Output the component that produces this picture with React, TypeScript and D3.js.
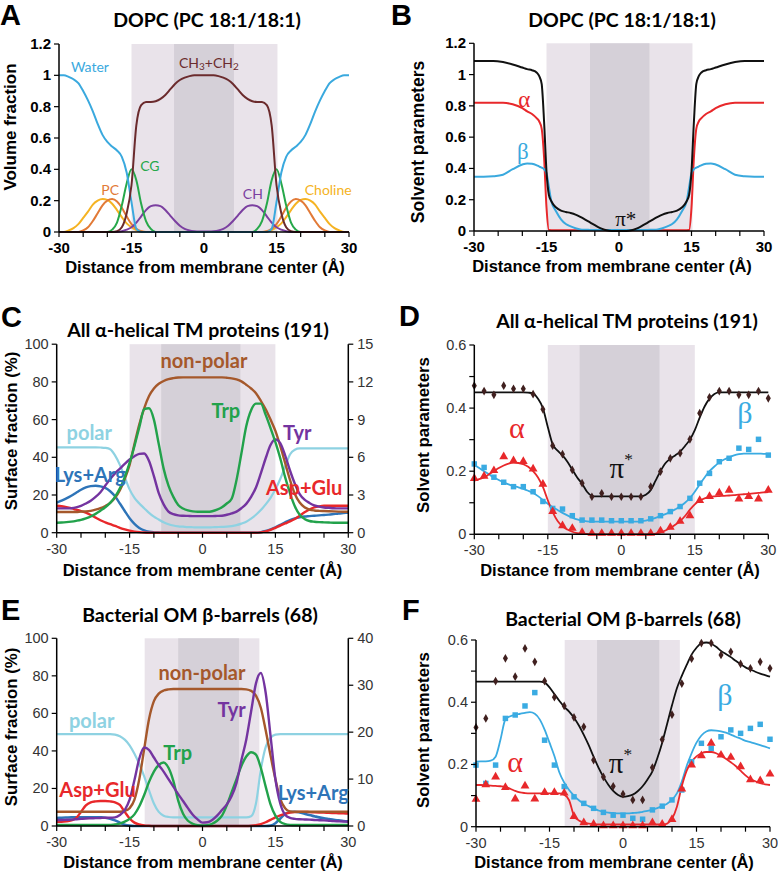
import React from "react";
import * as d3 from "d3";

// ---------- x grids (distance from membrane center, Å) ----------
const X_GRID = [-30,-29,-28,-27,-26,-25,-24,-23,-22,-21,-20,-19,-18,-17,-16,-15,-14,-13,-12,-11,-10,-9,-8,-7,-6,-5,-4,-3,-2,-1,0,1,2,3,4,5,6,7,8,9,10,11,12,13,14,15,16,17,18,19,20,21,22,23,24,25,26,27,28,29,30];
const X_GRID_B = [-30,-28,-26,-24,-22,-20,-19,-18,-17,-16.5,-16,-15.5,-15,-14.5,-14,-13,-12,-11,-10,-9,-8,-7,-6,-5,-4,-3,-2,-1,0,1,2,3,4,5,6,7,8,9,10,11,12,13,14,14.5,15,15.5,16,16.5,17,18,19,20,22,24,26,28,30];
const X_DOTS = [-30,-28,-26,-24,-22,-20,-18,-16,-14,-12,-10,-8,-6,-4,-2,0,2,4,6,8,10,12,14,16,18,20,22,24,26,28,30];
const X_TICKS = [-30,-25,-20,-15,-10,-5,0,5,10,15,20,25,30];
const X_TICK_LABELS = [-30,-15,0,15,30];

// ---------- A: DOPC volume fractions ----------
const aWater = [1.0,1.0,0.99,0.975,0.95,0.9,0.84,0.77,0.69,0.62, 0.575,0.545,0.52,0.48,0.38,0.19,0.02,0,0,0, 0,0,0,0,0,0,0,0,0,0, 0,0,0,0,0,0,0,0,0,0, 0,0,0,0,0.02,0.19,0.38,0.48,0.52,0.545, 0.575,0.62,0.69,0.77,0.84,0.9,0.95,0.975,0.99,1.0,1.0];
const aChains = [0,0,0,0,0,0,0,0,0,0, 0,0,0.005,0.03,0.12,0.3,0.68,0.81,0.83,0.83, 0.835,0.85,0.875,0.91,0.945,0.97,0.985,0.995,1.0,1.0, 1.0,1.0,1.0,0.995,0.985,0.97,0.945,0.91,0.875,0.85, 0.835,0.83,0.83,0.81,0.68,0.3,0.12,0.03,0.005,0, 0,0,0,0,0,0,0,0,0,0,0];
const aCG = [0,0,0,0,0,0,0,0,0,0, 0,0.015,0.06,0.17,0.31,0.4,0.33,0.18,0.07,0.02, 0,0,0,0,0,0,0,0,0,0, 0,0,0,0,0,0,0,0,0,0, 0,0.02,0.07,0.18,0.33,0.4,0.31,0.17,0.06,0.015, 0,0,0,0,0,0,0,0,0,0,0];
const aPC = [0,0,0,0,0,0.01,0.03,0.07,0.12,0.17, 0.2,0.21,0.195,0.155,0.1,0.05,0.02,0.005,0,0, 0,0,0,0,0,0,0,0,0,0, 0,0,0,0,0,0,0,0,0,0, 0,0,0,0.005,0.02,0.05,0.1,0.155,0.195,0.21, 0.2,0.17,0.12,0.07,0.03,0.01,0,0,0,0,0];
const aCholine = [0,0,0.01,0.025,0.05,0.09,0.13,0.175,0.2,0.21, 0.205,0.18,0.14,0.095,0.055,0.03,0.012,0.004,0,0, 0,0,0,0,0,0,0,0,0,0, 0,0,0,0,0,0,0,0,0,0, 0,0,0,0.004,0.012,0.03,0.055,0.095,0.14,0.18, 0.205,0.21,0.2,0.175,0.13,0.09,0.05,0.025,0.01,0,0];
const aCH = [0,0,0,0,0,0,0,0,0,0, 0,0,0,0.005,0.015,0.03,0.06,0.1,0.14,0.165, 0.17,0.165,0.14,0.105,0.07,0.04,0.02,0.01,0.005,0.003, 0.003,0.003,0.005,0.01,0.02,0.04,0.07,0.105,0.14,0.165, 0.17,0.165,0.14,0.1,0.06,0.03,0.015,0.005,0,0, 0,0,0,0,0,0,0,0,0,0,0];

// ---------- B: DOPC solvent parameters (on X_GRID_B) ----------
const bPi = [1.087,1.087,1.087,1.08,1.065,1.045,1.035,1.028,1.012,0.99,0.94,0.7,0.38,0.23,0.19,0.15,0.13,0.122,0.115,0.105,0.09,0.073,0.055,0.037,0.02,0.008,0.002,0, 0, 0,0.002,0.008,0.02,0.037,0.055,0.073,0.09,0.105,0.115,0.122,0.13,0.15,0.19,0.23,0.38,0.7,0.94,0.99,1.012,1.028,1.035,1.045,1.065,1.08,1.087,1.087,1.087];
const bAlpha = [0.82,0.82,0.82,0.82,0.81,0.785,0.765,0.748,0.72,0.7,0.655,0.47,0.15,0.006,0.005,0.005,0.005,0.005,0.005,0.005,0.005,0.005,0.005,0.004,0.004,0.004,0.004,0.004, 0.004, 0.004,0.004,0.004,0.004,0.004,0.005,0.005,0.005,0.005,0.005,0.005,0.005,0.005,0.005,0.006,0.15,0.47,0.655,0.7,0.72,0.748,0.765,0.785,0.81,0.82,0.82,0.82,0.82];
const bBeta = [0.347,0.347,0.35,0.36,0.395,0.425,0.432,0.43,0.42,0.412,0.405,0.395,0.37,0.28,0.19,0.125,0.075,0.045,0.03,0.018,0.01,0.008,0.007,0.006,0.006,0.006,0.006,0.006, 0.006, 0.006,0.006,0.006,0.006,0.006,0.007,0.008,0.01,0.018,0.03,0.045,0.075,0.125,0.19,0.28,0.37,0.395,0.405,0.412,0.42,0.43,0.432,0.425,0.395,0.36,0.35,0.347,0.347];

// ---------- C: all alpha-helical TM proteins (surface %) ----------
const cNonpolar = [11,11,11,11,11,11.2,11.3,11.6,12.2,13, 14.2,15.8,18.5,22.6,28.5,36,47,57.5,66,72.5, 76.5,79,80.5,81.5,82,82.3,82.4,82.4,82.4,82.4, 82.4,82.4,82.4,82.4,82.4,82.2,81.9,81.3,80.3,78.5, 76.5,74,70,65.5,60,54,46,37,28,20.5, 16,13.5,12.3,11.8,11.6,11.5,11.4,11.3,11.2,11.1,11.1];
const cPolar = [45.3,45.3,45.3,45.3,45.3,45.3,45.3,45.3,45.3,45.2, 45,44.3,41,36,29.5,23,18.5,15.5,13,10.5, 8.5,7,5.5,4.5,3.8,3.4,3.2,3,2.9,2.8, 2.8,2.8,2.9,3,3.1,3.2,3.5,4,4.8,5.8, 7.5,9.5,12,15,18.5,23,28.5,35,41.5,44, 44.7,44.7,44.7,44.7,44.7,44.7,44.7,44.7,44.7,44.7,44.7];
const cTrp = [5.3,5.4,5.6,5.9,6.3,6.8,7.6,8.6,10,11.7, 13.5,15.8,19,23.5,29.5,37,46,56,65.5,66, 60,47,34,25,19,14.7,12.8,11.8,11.3,11.1, 11.1,11.1,11.4,12.2,13.5,15.5,18,28,42,56.5, 65,68.5,68.5,62.5,55.5,48,39.5,29.5,21,14, 9.5,7.3,6.2,5.8,5.6,5.5,5.4,5.3,5.3,5.3,5.3];
const cTyr = [12.9,12.9,12.9,13,13.4,14.2,15.5,17,19,21.5, 25,28.5,31.5,34,36.5,38.8,40.6,41.8,42,38, 30,21,15,11.2,9.8,9.2,9,8.9,8.8,8.8, 8.8,8.8,8.8,8.9,9,9.5,10.2,11.2,13,15.3, 19,24,31.5,39.5,46.5,49.5,47.5,41,33,26, 20.5,17.5,15.8,14.5,13.8,13.4,13.2,13,12.9,12.9,12.9];
const cLysArg = [15.9,17,18.2,19.6,21.2,22.8,24,24.7,24.9,24.6, 23.8,22,19.3,15.5,11.5,7.7,4.7,2.5,1.2,0.5, 0.2,0.1,0,0,0,0,0,0,0,0, 0,0,0,0,0,0,0,0,0,0, 0,0,0.3,0.9,1.8,2.9,4.2,5.5,6.7,7.6, 8.2,8.6,8.8,9,9.2,9.4,9.6,9.9,10.2,10.4,10.6];
const cAspGlu = [14.3,14,13.6,13,12.2,11.5,10.6,9.4,8,6.6, 5.5,4.5,3.6,2.6,1.8,1.1,0.6,0.3,0.1,0, 0,0,0,0,0,0,0,0,0,0, 0,0,0,0,0,0,0,0,0,0, 0,0,0.2,0.7,1.5,2.6,3.8,4.9,6,7.3, 9,10.8,12.3,13.4,14,14.3,14.3,14.3,14.3,14.3,14.3];

// ---------- D: all alpha-helical TM proteins (solvent parameters) ----------
const dPiPts = [0.471,0.454,0.442,0.471,0.461,0.461,0.444,0.396,0.281,0.254, 0.204,0.162,0.119,0.13,0.119,0.119,0.119,0.119,0.151,0.199, 0.241,0.257,0.301,0.384,0.434,0.454,0.454,0.442,0.442,0.454, 0.431];
const dPiFit = [0.45,0.45,0.45,0.45,0.45,0.45,0.45,0.45,0.45,0.45, 0.45,0.449,0.447,0.43,0.4,0.34,0.285,0.265,0.25,0.23, 0.205,0.18,0.16,0.135,0.122,0.12,0.12,0.12,0.12,0.12, 0.12,0.12,0.12,0.12,0.12,0.125,0.14,0.17,0.2,0.225, 0.24,0.25,0.262,0.28,0.3,0.33,0.37,0.405,0.43,0.445, 0.45,0.45,0.45,0.45,0.45,0.45,0.45,0.45,0.45,0.45,0.45];
const dBetaPts = [0.223,0.212,0.181,0.165,0.151,0.151,0.135,0.104,0.082,0.08, 0.059,0.045,0.045,0.045,0.043,0.043,0.043,0.043,0.049,0.059, 0.072,0.088,0.114,0.162,0.193,0.23,0.241,0.273,0.269,0.301, 0.251];
const dBetaFit = [0.22,0.21,0.2,0.19,0.18,0.172,0.165,0.158,0.153,0.149, 0.144,0.138,0.131,0.121,0.109,0.097,0.086,0.077,0.068,0.06, 0.053,0.047,0.043,0.041,0.04,0.04,0.04,0.04,0.04,0.04, 0.04,0.04,0.04,0.04,0.041,0.043,0.047,0.052,0.058,0.064, 0.071,0.079,0.088,0.1,0.115,0.135,0.158,0.18,0.2,0.215, 0.228,0.237,0.244,0.25,0.254,0.256,0.256,0.256,0.256,0.255,0.255];
const dAlphaPts = [0.174,0.181,0.199,0.243,0.23,0.228,0.204,0.156,0.069,0.024, 0.016,0.003,0,0,0,0,0,0,0,0.008, 0.019,0.038,0.056,0.104,0.117,0.128,0.137,0.109,0.117,0.109, 0.137];
const dAlphaFit = [0.17,0.175,0.18,0.19,0.2,0.21,0.218,0.224,0.227,0.226, 0.222,0.214,0.2,0.18,0.15,0.108,0.07,0.042,0.025,0.015, 0.008,0.004,0.002,0.001,0,0,0,0,0,0, 0,0,0,0,0,0,0,0.002,0.006,0.012, 0.02,0.03,0.042,0.058,0.078,0.095,0.107,0.114,0.118,0.12, 0.121,0.122,0.123,0.124,0.126,0.127,0.128,0.13,0.131,0.133,0.134];

// ---------- E: bacterial OM beta-barrels (surface %) ----------
const eNonpolar = [7.6,7.6,7.6,7.6,7.6,7.6,7.6,7.6,7.6,7.6, 7.6,7.6,7.6,7.6,8,9.5,14,25,41,57, 66.5,70.5,72.2,72.8,73,73,73,73,73,73, 73,73,73,73,73,73,73,73,73,72.8, 72,69.5,63,51,37.5,25,14.5,9.5,7.8,7.6, 7.6,7.6,7.6,7.6,7.6,7.6,7.6,7.6,7.6,7.6,7.6];
const ePolar = [49,49,49,49,49,49,49,49,49,49, 49,49,48.7,47.8,46,43,38.5,33,26.5,19, 12,7.5,5.5,4.8,4.6,4.6,4.6,4.6,4.6,4.6, 4.6,4.6,4.6,4.6,4.6,4.6,4.6,4.6,4.6,4.6, 5.2,12,30,42,47,48.7,49,49,49,49, 49,49,49,49,49,49,49,49,49,49,49];
const eTrp = [0.5,0.5,0.5,0.5,0.5,0.5,0.5,0.5,0.5,0.5, 0.5,0.6,0.8,1.3,2.3,3.8,6.2,10.5,16.5,23.5, 29,32.5,33.8,31,24,13.5,6.5,2.8,1.2,0.5, 0.3,0.5,1.2,2.8,5.5,11,18,25,32,37, 39.3,38,31,21,11.5,5.5,2.2,1,0.6,0.5, 0.5,0.5,0.5,0.5,0.5,0.5,0.5,0.5,0.5,0.5,0.5];
const eTyr = [3.2,3.2,3.3,3.4,3.6,3.8,4,4.1,4.2,4.3, 4.4,4.4,4.6,5.9,8.5,14,24.5,36,41.8,40.5, 36.5,32.5,29,25,21,17,13.3,9.5,6,3.5, 1.8,2,3.2,5.5,8.5,11.5,16,23,35,46, 61,76,81.5,71,48,25,12,6,4.3,3.8, 3.6,3.5,3.4,3.2,3.1,3,2.8,2.6,2.5,2.4,2.3];
const eAspGlu = [2.3,2.3,2.5,3,4.2,7.5,11,12.6,13.1,13.3, 13.3,13.1,12.6,11.2,7.5,4,1.8,0.8,0.3,0.1, 0,0,0,0,0,0,0,0,0,0, 0,0,0,0,0,0,0,0,0,0, 0.1,0.4,1,2,3.3,4.6,5.7,6.5,7.1,7.4, 7.5,7.5,7.4,7.3,7.2,7.1,7,6.9,6.8,6.7,6.6];
const eLysArg = [4.3,4.4,4.5,4.6,4.6,4.7,4.7,4.7,4.7,4.6, 4.4,3.9,3,1.8,0.7,0.2,0,0,0,0, 0,0,0,0,0,0,0,0,0,0, 0,0,0,0,0,0,0,0,0,0, 0,0,0,0,0.2,1.5,4,6.5,7.5,7.6, 7.2,6.5,5.8,5.2,4.6,4.1,3.7,3.3,3,2.7,2.5];

// ---------- F: bacterial OM beta-barrels (solvent parameters) ----------
const fPiPts = [0.319,0.348,0.468,0.541,0.482,0.573,0.53,0.468,0.416,0.388, 0.351,0.321,0.214,0.16,0.13,0.105,0.086,0.086,0.19,0.28, 0.36,0.46,0.54,0.59,0.59,0.552,0.562,0.523,0.509,0.53, 0.509];
const fPiFit = [0.466,0.466,0.466,0.466,0.466,0.466,0.466,0.466,0.466,0.466, 0.466,0.466,0.466,0.466,0.463,0.448,0.426,0.405,0.385,0.37, 0.35,0.325,0.295,0.262,0.225,0.19,0.16,0.135,0.115,0.102, 0.096,0.098,0.103,0.114,0.13,0.152,0.178,0.22,0.27,0.33, 0.39,0.445,0.485,0.52,0.553,0.575,0.59,0.592,0.588,0.578, 0.565,0.555,0.545,0.533,0.522,0.512,0.505,0.498,0.492,0.487,0.482];
const fBetaPts = [0.198,0.139,0.198,0.348,0.359,0.388,0.431,0.278,0.198,0.129, 0.096,0.075,0.059,0.046,0.037,0.037,0.027,0.024,0.054,0.066, 0.086,0.118,0.209,0.268,0.252,0.289,0.311,0.3,0.316,0.329, 0.281];
const fBetaFit = [0.209,0.21,0.21,0.212,0.225,0.28,0.345,0.355,0.36,0.363, 0.366,0.368,0.363,0.345,0.312,0.27,0.227,0.175,0.142,0.118, 0.1,0.085,0.074,0.066,0.059,0.052,0.048,0.045,0.044,0.043, 0.043,0.043,0.044,0.045,0.048,0.051,0.055,0.06,0.066,0.074, 0.087,0.107,0.145,0.195,0.236,0.27,0.293,0.306,0.31,0.309, 0.306,0.302,0.296,0.289,0.283,0.276,0.272,0.267,0.262,0.257,0.252];
const fAlphaPts = [0.085,0.132,0.157,0.123,0.086,0.128,0.086,0.107,0.107,0.105, 0.03,0.01,0.005,0,0,0,0,0,0.01,0.005, 0.02,0.118,0.195,0.225,0.265,0.227,0.22,0.19,0.148,0.145, 0.166];
const fAlphaFit = [0.134,0.134,0.133,0.132,0.131,0.13,0.128,0.122,0.115,0.11, 0.108,0.107,0.107,0.107,0.107,0.107,0.107,0.107,0.103,0.085, 0.035,0.02,0.013,0.01,0.008,0.007,0.007,0.007,0.007,0.007, 0.007,0.007,0.007,0.007,0.007,0.007,0.007,0.007,0.007,0.01, 0.025,0.064,0.13,0.18,0.209,0.226,0.236,0.24,0.24,0.236, 0.228,0.218,0.207,0.195,0.18,0.165,0.153,0.146,0.14,0.136,0.134];

// ---------- styling ----------
const SANS = "'Liberation Sans', Arial, sans-serif";
const CALIBRI = "Lato, 'Open Sans', sans-serif";
const SERIF = "'Liberation Serif', 'DejaVu Serif', serif";
const SHADE_LIGHT = "#E9E3EA";
const SHADE_DARK = "#D5D0D8";

const C_WATER = "#3AA9DE";
const C_CHAINS = "#6B2B2D";
const C_CG = "#26A84A";
const C_PC = "#E27A37";
const C_CH = "#7B3FA0";
const C_CHOL = "#F5B323";
const C_BLACK = "#111111";
const C_RED = "#E8282B";
const C_BLUE = "#3AABE2";
const C_NONPOLAR = "#A5582B";
const C_POLAR = "#8ED2E2";
const C_TRP = "#22A24B";
const C_TYR = "#7434A0";
const C_LYS = "#2E74B8";
const C_DIAMOND = "#40201F";

type LineSpec = { xs: number[]; vs: number[]; color: string; width: number };
type DotSpec = { vs: number[]; color: string; shape: "diamond" | "square" | "triangle" };
type LabelSpec = { text: string; x: number; y: number; color: string; size: number; family: string; weight?: number; sup?: string };
type PanelSpec = {
  letter: string; letterX: number; letterY: number;
  title: string; titleX: number; titleY: number;
  x0: number; x1: number; yb: number; yt: number;
  yDomain: [number, number]; yTicks: number[]; yLabels: number[];
  right?: { domain: [number, number]; ticks: number[] };
  yTitle: string; yTitleX: number; yTitleY: number; yTitleSize: number;
  xTitleX: number; xTitleY: number;
  boldTicks: boolean;
  shadeOuter: [number, number]; shadeInner: [number, number];
  lines: LineSpec[]; dots?: DotSpec[]; labels: LabelSpec[];
};

const symbols = { diamond: d3.symbolDiamond, square: d3.symbolSquare, triangle: d3.symbolTriangle };
const symbolSize = { diamond: 22, square: 30, triangle: 34 };

function Panel({ p }: { p: PanelSpec }) {
  const x = d3.scaleLinear().domain([-30, 30]).range([p.x0, p.x1]);
  const y = d3.scaleLinear().domain(p.yDomain).range([p.yb, p.yt]);
  const yr = p.right ? d3.scaleLinear().domain(p.right.domain).range([p.yb, p.yt]) : null;
  const tickFill = p.boldTicks ? "#000" : "#333";
  const tickWeight = p.boldTicks ? 700 : 400;
  const tickSize = p.boldTicks ? 15 : 14.5;
  const mk = (xs: number[]) =>
    d3.line<number>().x((_, i) => x(xs[i])).y((d) => y(d)).curve(d3.curveMonotoneX);

  return (
    <g>
      <text x={p.letterX} y={p.letterY} fontFamily={SANS} fontWeight={700} fontSize={29}>{p.letter}</text>
      <text x={p.titleX} y={p.titleY} textAnchor="middle" fontFamily={CALIBRI} fontWeight={700} fontSize={19.5}>{p.title}</text>

      <rect x={x(p.shadeOuter[0])} y={p.yt} width={x(p.shadeOuter[1]) - x(p.shadeOuter[0])} height={p.yb - p.yt} fill={SHADE_LIGHT} />
      <rect x={x(p.shadeInner[0])} y={p.yt} width={x(p.shadeInner[1]) - x(p.shadeInner[0])} height={p.yb - p.yt} fill={SHADE_DARK} />

      {p.lines.map((l, i) => (
        <path key={i} d={mk(l.xs)(l.vs) || ""} fill="none" stroke={l.color} strokeWidth={l.width} strokeLinejoin="round" />
      ))}
      {(p.dots || []).map((s, i) => (
        <g key={"d" + i} fill={s.color}>
          {s.vs.map((v, j) => (
            <path key={j} transform={`translate(${x(X_DOTS[j])},${y(v) + (s.shape === "triangle" ? -1 : 0)})`}
              d={d3.symbol().type(symbols[s.shape]).size(symbolSize[s.shape])() || ""} />
          ))}
        </g>
      ))}

      {/* axes */}
      <line x1={p.x0} x2={p.x0} y1={p.yt} y2={p.yb} stroke="#000" strokeWidth={1.5} />
      <line x1={p.x0} x2={p.x1} y1={p.yb} y2={p.yb} stroke="#000" strokeWidth={1.5} />
      {yr && <line x1={p.x1} x2={p.x1} y1={p.yt} y2={p.yb} stroke="#000" strokeWidth={1.5} />}
      {p.yTicks.map((t) => (
        <line key={"yt" + t} x1={p.x0 - 5} x2={p.x0} y1={y(t)} y2={y(t)} stroke="#000" strokeWidth={1.2} />
      ))}
      {p.yLabels.map((t) => (
        <text key={"yl" + t} x={p.x0 - 8} y={y(t) + 5} textAnchor="end" fontFamily={SANS} fontWeight={tickWeight} fontSize={tickSize} fill={tickFill}>{String(t)}</text>
      ))}
      {yr && p.right!.ticks.map((t) => (
        <g key={"r" + t}>
          <line x1={p.x1} x2={p.x1 + 5} y1={yr(t)} y2={yr(t)} stroke="#000" strokeWidth={1.2} />
          <text x={p.x1 + 9} y={yr(t) + 5} fontFamily={SANS} fontSize={tickSize} fill={tickFill}>{String(t)}</text>
        </g>
      ))}
      {X_TICKS.map((t) => (
        <line key={"xt" + t} x1={x(t)} x2={x(t)} y1={p.yb} y2={p.yb + 5} stroke="#000" strokeWidth={1.2} />
      ))}
      {X_TICK_LABELS.map((t) => (
        <text key={"xl" + t} x={x(t)} y={p.yb + 21} textAnchor="middle" fontFamily={SANS} fontWeight={tickWeight} fontSize={tickSize} fill={tickFill}>{String(t)}</text>
      ))}
      <text x={p.xTitleX} y={p.xTitleY} textAnchor="middle" fontFamily={SANS} fontWeight={700} fontSize={16.5}>
        Distance from membrane center (Å)
      </text>
      <text transform={`translate(${p.yTitleX},${p.yTitleY}) rotate(-90)`} textAnchor="middle" fontFamily={SANS} fontWeight={700} fontSize={p.yTitleSize}>
        {p.yTitle}
      </text>

      {p.labels.map((l, i) => (
        <text key={"lb" + i} x={x(l.x)} y={y(l.y)} textAnchor="middle" fill={l.color} fontFamily={l.family} fontWeight={l.weight || 400} fontSize={l.size}>
          {l.text}
          {l.sup && <tspan fontSize={l.size * 0.6} dy={-l.size * 0.45}>{l.sup}</tspan>}
        </text>
      ))}
    </g>
  );
}

const panels: PanelSpec[] = [
  {
    letter: "A", letterX: 0, letterY: 25, title: "DOPC (PC 18:1/18:1)", titleX: 207, titleY: 27,
    x0: 59, x1: 349, yb: 232, yt: 44, yDomain: [0, 1.2],
    yTicks: [0, 0.2, 0.4, 0.6, 0.8, 1, 1.2], yLabels: [0, 0.2, 0.4, 0.6, 0.8, 1, 1.2],
    yTitle: "Volume fraction", yTitleX: 16, yTitleY: 127, yTitleSize: 17,
    xTitleX: 205, xTitleY: 273, boldTicks: true,
    shadeOuter: [-15, 15.2], shadeInner: [-6.2, 6.2],
    lines: [
      { xs: X_GRID, vs: aCholine, color: C_CHOL, width: 2 },
      { xs: X_GRID, vs: aPC, color: C_PC, width: 2 },
      { xs: X_GRID, vs: aCH, color: C_CH, width: 2 },
      { xs: X_GRID, vs: aCG, color: C_CG, width: 2 },
      { xs: X_GRID, vs: aWater, color: C_WATER, width: 2 },
      { xs: X_GRID, vs: aChains, color: C_CHAINS, width: 2 },
    ],
    labels: [
      { text: "Water", x: -23.6, y: 1.02, color: C_WATER, size: 14, family: CALIBRI },
      { text: "CG", x: -11.2, y: 0.39, color: C_CG, size: 14, family: CALIBRI },
      { text: "PC", x: -19.4, y: 0.236, color: C_PC, size: 14, family: CALIBRI },
      { text: "CH", x: 10.1, y: 0.21, color: C_CH, size: 14, family: CALIBRI },
      { text: "Choline", x: 25.7, y: 0.236, color: C_CHOL, size: 14, family: CALIBRI },
    ],
  },
  {
    letter: "B", letterX: 391, letterY: 25, title: "DOPC (PC 18:1/18:1)", titleX: 622, titleY: 27,
    x0: 474, x1: 764, yb: 231, yt: 43.3, yDomain: [0, 1.2],
    yTicks: [0, 0.2, 0.4, 0.6, 0.8, 1, 1.2], yLabels: [0, 0.2, 0.4, 0.6, 0.8, 1, 1.2],
    yTitle: "Solvent parameters", yTitleX: 424, yTitleY: 142, yTitleSize: 17.5,
    xTitleX: 612, xTitleY: 272, boldTicks: true,
    shadeOuter: [-15, 15.2], shadeInner: [-6, 6.3],
    lines: [
      { xs: X_GRID_B, vs: bAlpha, color: C_RED, width: 2 },
      { xs: X_GRID_B, vs: bBeta, color: C_WATER, width: 2 },
      { xs: X_GRID_B, vs: bPi, color: C_BLACK, width: 2 },
    ],
    labels: [
      { text: "α", x: -19.6, y: 0.795, color: C_RED, size: 23, family: SERIF },
      { text: "β", x: -19.9, y: 0.46, color: C_WATER, size: 23, family: SERIF },
      { text: "π*", x: 1.4, y: 0.032, color: C_BLACK, size: 21, family: SERIF },
    ],
  },
  {
    letter: "C", letterX: 1, letterY: 327, title: "All α-helical TM proteins (191)", titleX: 198, titleY: 337,
    x0: 56.7, x1: 348.3, yb: 532.7, yt: 344.2, yDomain: [0, 100],
    yTicks: [0, 20, 40, 60, 80, 100], yLabels: [0, 20, 40, 60, 80, 100],
    right: { domain: [0, 15], ticks: [0, 3, 6, 9, 12, 15] },
    yTitle: "Surface fraction (%)", yTitleX: 17, yTitleY: 431, yTitleSize: 16.8,
    xTitleX: 202.5, xTitleY: 576, boldTicks: false,
    shadeOuter: [-15, 15], shadeInner: [-8.5, 7.8],
    lines: [
      { xs: X_GRID, vs: cPolar, color: C_POLAR, width: 2.2 },
      { xs: X_GRID, vs: cLysArg, color: C_LYS, width: 2.4 },
      { xs: X_GRID, vs: cAspGlu, color: C_RED, width: 2.4 },
      { xs: X_GRID, vs: cNonpolar, color: C_NONPOLAR, width: 2.4 },
      { xs: X_GRID, vs: cTyr, color: C_TYR, width: 2.4 },
      { xs: X_GRID, vs: cTrp, color: C_TRP, width: 2.4 },
    ],
    labels: [
      { text: "non-polar", x: 0.3, y: 87.2, color: C_NONPOLAR, size: 20, family: CALIBRI, weight: 700 },
      { text: "Trp", x: 4.8, y: 60.7, color: C_TRP, size: 20, family: CALIBRI, weight: 700 },
      { text: "polar", x: -23.3, y: 49.2, color: C_POLAR, size: 20, family: CALIBRI, weight: 700 },
      { text: "Tyr", x: 19.5, y: 49.2, color: C_TYR, size: 20, family: CALIBRI, weight: 700 },
      { text: "Lys+Arg", x: -23.1, y: 27.1, color: C_LYS, size: 20, family: CALIBRI, weight: 700 },
      { text: "Asp+Glu", x: 20.9, y: 20, color: C_RED, size: 20, family: CALIBRI, weight: 700 },
    ],
  },
  {
    letter: "D", letterX: 399, letterY: 326, title: "All α-helical TM proteins (191)", titleX: 627, titleY: 328,
    x0: 474.3, x1: 768.3, yb: 534.3, yt: 345, yDomain: [0, 0.6],
    yTicks: [0, 0.1, 0.2, 0.3, 0.4, 0.5, 0.6], yLabels: [0, 0.2, 0.4, 0.6],
    yTitle: "Solvent parameters", yTitleX: 429, yTitleY: 435, yTitleSize: 16.8,
    xTitleX: 620, xTitleY: 576, boldTicks: false,
    shadeOuter: [-15, 15], shadeInner: [-8.5, 7.8],
    lines: [
      { xs: X_GRID, vs: dPiFit, color: C_BLACK, width: 1.8 },
      { xs: X_GRID, vs: dBetaFit, color: C_BLUE, width: 1.8 },
      { xs: X_GRID, vs: dAlphaFit, color: C_RED, width: 1.8 },
    ],
    dots: [
      { vs: dPiPts, color: C_DIAMOND, shape: "diamond" },
      { vs: dBetaPts, color: C_BLUE, shape: "square" },
      { vs: dAlphaPts, color: C_RED, shape: "triangle" },
    ],
    labels: [
      { text: "α", x: -21.3, y: 0.304, color: C_RED, size: 30, family: SERIF },
      { text: "β", x: 25.2, y: 0.352, color: C_BLUE, size: 30, family: SERIF },
      { text: "π", x: 0, y: 0.177, color: C_BLACK, size: 29, family: SERIF, sup: "*" },
    ],
  },
  {
    letter: "E", letterX: 1, letterY: 620, title: "Bacterial OM β-barrels (68)", titleX: 200, titleY: 622,
    x0: 56.7, x1: 348.3, yb: 826, yt: 638.3, yDomain: [0, 100],
    yTicks: [0, 20, 40, 60, 80, 100], yLabels: [0, 20, 40, 60, 80, 100],
    right: { domain: [0, 40], ticks: [0, 10, 20, 30, 40] },
    yTitle: "Surface fraction (%)", yTitleX: 17, yTitleY: 727, yTitleSize: 16.8,
    xTitleX: 203, xTitleY: 868, boldTicks: false,
    shadeOuter: [-11.9, 11.7], shadeInner: [-5, 7.5],
    lines: [
      { xs: X_GRID, vs: ePolar, color: C_POLAR, width: 2.2 },
      { xs: X_GRID, vs: eLysArg, color: C_LYS, width: 2.6 },
      { xs: X_GRID, vs: eAspGlu, color: C_RED, width: 2.4 },
      { xs: X_GRID, vs: eNonpolar, color: C_NONPOLAR, width: 2.4 },
      { xs: X_GRID, vs: eTrp, color: C_TRP, width: 2.4 },
      { xs: X_GRID, vs: eTyr, color: C_TYR, width: 2.4 },
    ],
    labels: [
      { text: "non-polar", x: -0.1, y: 77.7, color: C_NONPOLAR, size: 20, family: CALIBRI, weight: 700 },
      { text: "Tyr", x: 6, y: 57.9, color: C_TYR, size: 20, family: CALIBRI, weight: 700 },
      { text: "polar", x: -22.8, y: 52, color: C_POLAR, size: 20, family: CALIBRI, weight: 700 },
      { text: "Trp", x: -5.1, y: 35.2, color: C_TRP, size: 20, family: CALIBRI, weight: 700 },
      { text: "Asp+Glu", x: -21.6, y: 15.6, color: C_RED, size: 20, family: CALIBRI, weight: 700 },
      { text: "Lys+Arg", x: 22.8, y: 13.9, color: C_LYS, size: 20, family: CALIBRI, weight: 700 },
    ],
  },
  {
    letter: "F", letterX: 402, letterY: 620, title: "Bacterial OM β-barrels (68)", titleX: 623, titleY: 626,
    x0: 476, x1: 770, yb: 826.7, yt: 640, yDomain: [0, 0.6],
    yTicks: [0, 0.1, 0.2, 0.3, 0.4, 0.5, 0.6], yLabels: [0, 0.2, 0.4, 0.6],
    yTitle: "Solvent parameters", yTitleX: 429, yTitleY: 730, yTitleSize: 16.8,
    xTitleX: 614, xTitleY: 868, boldTicks: false,
    shadeOuter: [-11.9, 11.6], shadeInner: [-5.3, 7.4],
    lines: [
      { xs: X_GRID, vs: fPiFit, color: C_BLACK, width: 1.8 },
      { xs: X_GRID, vs: fBetaFit, color: C_BLUE, width: 1.8 },
      { xs: X_GRID, vs: fAlphaFit, color: C_RED, width: 1.8 },
    ],
    dots: [
      { vs: fPiPts, color: C_DIAMOND, shape: "diamond" },
      { vs: fBetaPts, color: C_BLUE, shape: "square" },
      { vs: fAlphaPts, color: C_RED, shape: "triangle" },
    ],
    labels: [
      { text: "β", x: 20.8, y: 0.391, color: C_BLUE, size: 30, family: SERIF },
      { text: "α", x: -22, y: 0.177, color: C_RED, size: 30, family: SERIF },
      { text: "π", x: -0.5, y: 0.172, color: C_BLACK, size: 29, family: SERIF, sup: "*" },
    ],
  },
];

export default function App() {
  const xA = d3.scaleLinear().domain([-30, 30]).range([59, 349]);
  const yA = d3.scaleLinear().domain([0, 1.2]).range([232, 44]);
  return (
    <svg width={778} height={875} style={{ position: "absolute", left: 0, top: 0, background: "#fff" }}>
      <rect width={778} height={875} fill="#fff" />
      {panels.map((p) => <Panel key={p.letter} p={p} />)}
      {/* CH3+CH2 label with subscripts */}
      <text x={xA(1)} y={yA(1.047)} textAnchor="middle" fill={C_CHAINS} fontFamily={CALIBRI} fontSize={14}>
        CH<tspan fontSize={10} dy={2}>3</tspan><tspan dy={-2}>+CH</tspan><tspan fontSize={10} dy={2}>2</tspan>
      </text>
    </svg>
  );
}
